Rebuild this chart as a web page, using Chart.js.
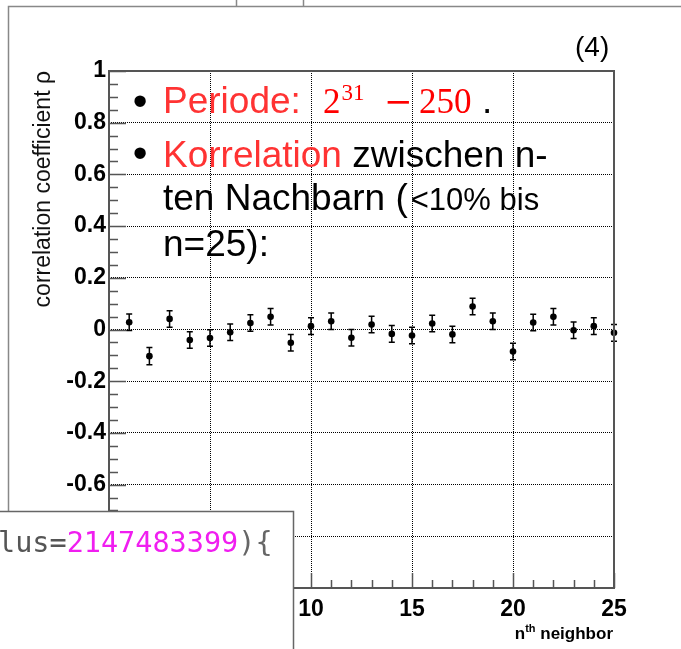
<!DOCTYPE html>
<html>
<head>
<meta charset="utf-8">
<script src="https://cdn.jsdelivr.net/npm/chart.js@4.4.1/dist/chart.umd.min.js"></script>
<style>
  html, body { margin: 0; padding: 0; background: #fff; }
  #c { display: block; }
</style>
</head>
<body>
<canvas id="c" width="681" height="649"></canvas>
<script>
// correlation between n-th neighbours of the generator
const neighbors = [1, 2, 3, 4, 5, 6, 7, 8, 9, 10, 11, 12, 13, 14, 15, 16, 17, 18, 19, 20, 21, 22, 23, 24, 25];
const rho = [0.028, -0.103, 0.041, -0.041, -0.033, -0.011, 0.025, 0.049, -0.051, 0.013,
             0.032, -0.032, 0.019, -0.017, -0.023, 0.023, -0.019, 0.089, 0.032, -0.085,
             0.027, 0.049, -0.003, 0.013, -0.013];
const rhoErr = [0.032, 0.033, 0.032, 0.032, 0.032, 0.032, 0.032, 0.032, 0.032, 0.032,
                0.032, 0.032, 0.032, 0.032, 0.032, 0.032, 0.032, 0.032, 0.032, 0.032,
                0.032, 0.032, 0.032, 0.032, 0.032];

const xRange = [0, 25];
const yRange = [-1, 1];
const xMajorStep = 5;
const yMajorStep = 0.2;

const SANS = '"Liberation Sans", Arial, Helvetica, sans-serif';

// error bars under the markers, frame and inward ROOT-style ticks on top
const rootFrame = {
  id: 'rootFrame',
  beforeDatasetsDraw(chart) {
    const { ctx, scales: { x, y } } = chart;
    ctx.save();
    ctx.strokeStyle = '#000';
    ctx.lineWidth = 1.5;
    neighbors.forEach((n, i) => {
      const px = x.getPixelForValue(n);
      const hi = y.getPixelForValue(rho[i] + rhoErr[i]);
      const lo = y.getPixelForValue(rho[i] - rhoErr[i]);
      ctx.beginPath();
      ctx.moveTo(px, hi); ctx.lineTo(px, lo);
      ctx.moveTo(px - 3, hi); ctx.lineTo(px + 3, hi);
      ctx.moveTo(px - 3, lo); ctx.lineTo(px + 3, lo);
      ctx.stroke();
    });
    ctx.restore();
  },
  afterDatasetsDraw(chart) {
    const { ctx, chartArea: a, scales: { x, y } } = chart;
    ctx.save();
    ctx.strokeStyle = '#555';
    ctx.lineWidth = 1.5;
    ctx.beginPath();
    // y ticks: 4 minor divisions per major
    const ySub = yMajorStep / 4;
    const nY = Math.round((yRange[1] - yRange[0]) / ySub);
    for (let k = 0; k <= nY; k++) {
      const py = Math.round(y.getPixelForValue(yRange[0] + k * ySub)) + 0.5;
      const len = k % 4 === 0 ? 17 : 9;
      ctx.moveTo(a.left, py); ctx.lineTo(a.left + len, py);
    }
    // x ticks: one minor per unit
    for (let n = xRange[0]; n <= xRange[1]; n++) {
      const px = Math.round(x.getPixelForValue(n)) + 0.5;
      const len = n % xMajorStep === 0 ? 15 : 8;
      ctx.moveTo(px, a.bottom); ctx.lineTo(px, a.bottom - len);
    }
    ctx.stroke();
    ctx.lineWidth = 2;
    ctx.strokeRect(a.left, a.top, a.right - a.left, a.bottom - a.top);
    ctx.restore();
  },
  afterDraw(chart) {
    const { ctx, chartArea: a } = chart;
    ctx.save();
    ctx.textBaseline = 'alphabetic';
    ctx.textAlign = 'left';

    // x axis title with superscript
    ctx.fillStyle = '#000';
    const t1 = 'n', t2 = 'th', t3 = ' neighbor';
    ctx.font = 'bold 17px ' + SANS;
    const w1 = ctx.measureText(t1).width, w3 = ctx.measureText(t3).width;
    ctx.font = 'bold 11px ' + SANS;
    const w2 = ctx.measureText(t2).width;
    let tx = a.right - 1 - (w1 + w2 + w3);
    ctx.font = 'bold 17px ' + SANS;
    ctx.fillText(t1, tx, 639); tx += w1;
    ctx.font = 'bold 11px ' + SANS;
    ctx.fillText(t2, tx, 632); tx += w2;
    ctx.font = 'bold 17px ' + SANS;
    ctx.fillText(t3, tx, 639);

    // pad label
    ctx.font = '28px ' + SANS;
    ctx.fillText('(4)', 575, 56);

    // slide text
    const put = (txt, x0, base, font, color) => {
      ctx.font = font; ctx.fillStyle = color;
      ctx.fillText(txt, x0, base);
      return x0 + ctx.measureText(txt).width;
    };
    const big = '37px ' + SANS;
    const red = '#ff3333';
    ctx.textAlign = 'center';
    put('\u2022', 140, 115, '42px ' + SANS, '#000');
    put('\u2022', 140, 167, '42px ' + SANS, '#000');
    ctx.textAlign = 'left';

    put('Periode:', 163, 113, big, red);
    const mx = put('2', 323, 113, '35px "Liberation Serif", serif', '#ff0000');
    put('31', mx + 1, 100, '23px "Liberation Serif", serif', '#ff0000');
    put('\u2212', 384, 113, '34px "DejaVu Serif", serif', '#ff0000');
    put('250', 419, 113, '35px "Liberation Serif", serif', '#ff0000');
    put('.', 482, 113, big, '#000');

    let lx = put('Korrelation', 163, 167, big, red);
    put(' zwischen n-', lx, 167, big, '#000');
    lx = put('ten Nachbarn (', 163, 210, big, '#000');
    put('<10% bis', lx + 3, 210, '31px ' + SANS, '#000');
    put('n=25):', 163, 256, big, '#000');

    // outer pad border
    ctx.strokeStyle = '#888';
    ctx.lineWidth = 1.5;
    ctx.beginPath();
    ctx.moveTo(8.5, 649); ctx.lineTo(8.5, 6.5); ctx.lineTo(681, 6.5);
    ctx.moveTo(236.5, 0); ctx.lineTo(236.5, 6);
    ctx.moveTo(303.5, 0); ctx.lineTo(303.5, 6);
    ctx.stroke();

    // code snippet box
    ctx.fillStyle = '#fff';
    ctx.fillRect(0, 511, 293, 138);
    ctx.strokeStyle = '#666';
    ctx.lineWidth = 1.5;
    ctx.beginPath();
    ctx.moveTo(0, 511.5); ctx.lineTo(293.5, 511.5); ctx.lineTo(293.5, 649);
    ctx.stroke();
    const mono = '28.5px "DejaVu Sans Mono", "Liberation Mono", monospace';
    let cx = put('lus=', -2, 552, mono, '#555');
    cx = put('2147483399', cx, 552, mono, '#f01ef0');
    put('){', cx, 552, mono, '#666');
    ctx.restore();
  }
};

new Chart(document.getElementById('c'), {
  type: 'scatter',
  data: {
    datasets: [{
      data: neighbors.map((n, i) => ({ x: n, y: rho[i] })),
      pointRadius: 3.3,
      pointBackgroundColor: '#000',
      pointBorderWidth: 0,
      showLine: false,
      clip: false
    }]
  },
  options: {
    responsive: false,
    animation: false,
    devicePixelRatio: 1,
    layout: { padding: { left: 0, top: 71, right: 67, bottom: 0 } },
    plugins: { legend: { display: false }, tooltip: { enabled: false } },
    scales: {
      x: {
        type: 'linear',
        min: xRange[0],
        max: xRange[1],
        afterFit(scale) { scale.height = 61; },
        ticks: {
          stepSize: xMajorStep,
          color: '#000',
          padding: 8,
          maxRotation: 0,
          font: { family: SANS, size: 23, weight: 'bold' }
        },
        grid: {
          drawTicks: false,
          lineWidth: 1,
          color: ctx => (ctx.tick && (ctx.tick.value === xRange[0] || ctx.tick.value === xRange[1])) ? 'rgba(0,0,0,0)' : '#000'
        },
        border: { display: false, dash: [1, 1] }
      },
      y: {
        type: 'linear',
        min: yRange[0],
        max: yRange[1],
        afterFit(scale) { scale.width = 109; },
        ticks: {
          stepSize: yMajorStep,
          color: '#000',
          padding: 3,
          font: { family: SANS, size: 23, weight: 'bold' },
          callback: v => String(Math.round(v * 10) / 10)
        },
        grid: {
          drawTicks: false,
          lineWidth: 1,
          color: ctx => (ctx.tick && Math.abs(Math.abs(ctx.tick.value) - 1) < 1e-6) ? 'rgba(0,0,0,0)' : '#000'
        },
        border: { display: false, dash: [1, 1] },
        title: {
          display: true,
          text: 'correlation coefficient \u03c1',
          align: 'end',
          color: '#111',
          font: { family: SANS, size: 23 },
          padding: { top: 30, bottom: 0 }
        }
      }
    }
  },
  plugins: [rootFrame]
});
</script>
</body>
</html>
